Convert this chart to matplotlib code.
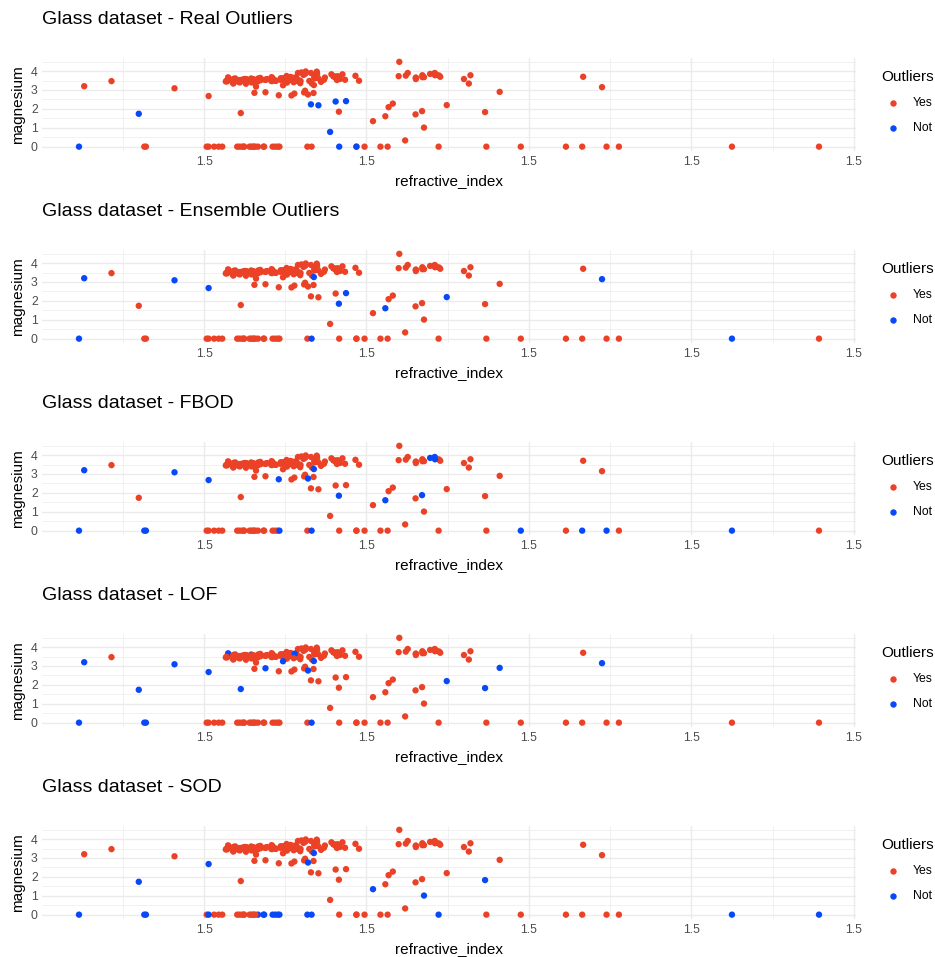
import matplotlib
matplotlib.use('Agg')
import matplotlib.pyplot as plt
import numpy as np

plt.rcParams['font.family'] = ['Liberation Sans', 'DejaVu Sans']

# Glass data: refractive index and magnesium, in row order (rows 1..214)
ri = [
    1.52101, 1.51761, 1.51618, 1.51766, 1.51742, 1.51596, 1.51743, 1.51756, 1.51918, 1.51755,
    1.51571, 1.51763, 1.51589, 1.51748, 1.51763, 1.51761, 1.51784, 1.52196, 1.51911, 1.51735,
    1.51750, 1.51966, 1.51736, 1.51751, 1.51720, 1.51764, 1.51793, 1.51721, 1.51768, 1.51784,
    1.51768, 1.51747, 1.51775, 1.51753, 1.51783, 1.51567, 1.51909, 1.51797, 1.52213, 1.52213,
    1.51793, 1.51755, 1.51779, 1.52210, 1.51786, 1.51900, 1.51869, 1.52667, 1.52223, 1.51898,
    1.52320, 1.51926, 1.51808, 1.51837, 1.51778, 1.51769, 1.51215, 1.51824, 1.51754, 1.51754,
    1.51905, 1.51977, 1.52172, 1.52227, 1.52172, 1.52099, 1.52152, 1.52152, 1.52152, 1.52300,
    1.51574, 1.51848, 1.51593, 1.51631, 1.51596, 1.51590, 1.51645, 1.51627, 1.51613, 1.51590,
    1.51592, 1.51593, 1.51646, 1.51594, 1.51409, 1.51625, 1.51569, 1.51645, 1.51618, 1.51640,
    1.51841, 1.51605, 1.51588, 1.51590, 1.51629, 1.51860, 1.51841, 1.51743, 1.51689, 1.51811,
    1.51655, 1.51730, 1.51820, 1.52725, 1.52410, 1.52475, 1.53125, 1.53393, 1.52222, 1.51818,
    1.52664, 1.52739, 1.52777, 1.51892, 1.51847, 1.51846, 1.51829, 1.51708, 1.51673, 1.51652,
    1.51844, 1.51663, 1.51687, 1.51707, 1.52177, 1.51872, 1.51667, 1.52081, 1.52068, 1.52020,
    1.52177, 1.52614, 1.51813, 1.51800, 1.51811, 1.51789, 1.51806, 1.51711, 1.51674, 1.51674,
    1.51690, 1.51851, 1.51662, 1.51709, 1.51660, 1.51839,
    1.51769, 1.51610, 1.51670, 1.51643, 1.51665, 1.52127, 1.51779, 1.51610, 1.51694, 1.51646,
    1.51655, 1.52121, 1.51776, 1.51796, 1.51832, 1.51934, 1.52211,
    1.51514, 1.51915, 1.52171, 1.52151, 1.51969, 1.51666, 1.51994, 1.52369, 1.51316, 1.51321,
    1.52043, 1.52058, 1.52119,
    1.51905, 1.51937, 1.51829, 1.51852, 1.51299, 1.51888, 1.51916, 1.51969, 1.51115,
    1.51131, 1.51838, 1.52315, 1.52247, 1.52365, 1.51613, 1.51602, 1.51623, 1.51719, 1.51683,
    1.51545, 1.51556, 1.51727, 1.51531, 1.51609, 1.51508, 1.51653, 1.51514, 1.51658, 1.51617,
    1.51732, 1.51645, 1.51831, 1.51640, 1.51623, 1.51685, 1.52065, 1.51651, 1.51711,
]

magnesium = [
    4.49, 3.60, 3.55, 3.69, 3.62, 3.61, 3.60, 3.61, 3.58, 3.60,
    3.46, 3.66, 3.43, 3.56, 3.59, 3.54, 3.67, 3.85, 3.73, 3.54,
    3.55, 3.75, 3.62, 3.57, 3.50, 3.54, 3.48, 3.48, 3.52, 3.49,
    3.56, 3.50, 3.48, 3.47, 3.54, 3.45, 3.53, 3.48, 3.82, 3.82,
    3.50, 3.39, 3.50, 3.90, 3.48, 3.73, 3.54, 3.70, 3.77, 3.72,
    3.78, 3.83, 2.87, 2.84, 2.81, 2.71, 3.47, 3.48, 3.74, 3.54,
    3.66, 3.49, 3.68, 3.70, 3.78, 3.73, 3.65, 3.65, 3.58, 3.58,
    3.67, 3.87, 3.59, 3.57, 3.56, 3.58, 3.61, 3.58, 3.52, 3.52,
    3.52, 3.45, 3.55, 3.52, 3.09, 3.58, 3.49, 3.49, 3.50, 3.48,
    3.74, 3.44, 3.41, 3.34, 3.33, 3.43, 3.62, 3.25, 2.88, 2.96,
    2.85, 2.72, 2.76, 3.15, 2.90, 0.00, 0.00, 0.00, 0.00, 0.00,
    0.00, 0.00, 0.00, 3.83, 3.97, 3.89, 3.90, 3.68, 3.64, 3.57,
    3.76, 3.54, 3.54, 3.48, 3.68, 3.66, 3.61, 2.28, 2.09, 1.35,
    1.01, 0.00, 3.98, 3.93, 3.85, 3.90, 3.80, 3.62, 3.52, 3.56,
    3.54, 3.63, 3.51, 3.47, 3.18, 3.67,
    3.66, 3.53, 3.57, 3.52, 3.45, 3.90, 3.65, 3.40, 3.58, 3.40,
    3.39, 3.76, 3.41, 3.36, 3.34, 3.54, 3.78,
    2.68, 1.85, 1.88, 1.71, 0.00, 0.00, 0.00, 0.00, 0.00, 0.00,
    0.00, 1.61, 0.33,
    2.39, 2.41, 2.24, 2.19, 1.74, 0.78, 0.00, 0.00, 0.00,
    3.20, 3.26, 3.34, 2.20, 1.83, 1.78, 0.00, 0.00, 0.00, 0.00,
    0.00, 0.00, 0.00, 0.00, 0.00, 0.00, 0.00, 0.00, 0.00, 0.00,
    0.00, 0.00, 0.00, 0.00, 0.00, 0.00, 0.00, 0.00, 0.00,
]

# rows (1-based) drawn in blue ("Not") for each method
real_rows = [177, 178, 179, 180, 181, 182, 183, 184, 185]
ensemble_rows = [85, 104, 107, 164, 165, 175, 178, 185, 186, 187, 189, 208]
fbod_rows = [18, 39, 40, 44, 85, 88, 102, 103, 106, 107, 111, 112, 163, 164, 165,
             166, 172, 173, 175, 185, 186, 187, 206, 208]
lof_rows = [13, 71, 83, 85, 98, 99, 103, 104, 105, 153, 164, 172, 173, 181, 185,
            186, 187, 189, 190, 191, 208]
sod_rows = [103, 107, 108, 109, 110, 130, 131, 164, 169, 172, 173, 181, 185, 187,
            190, 194, 195, 198, 203, 206, 208, 211, 214]

titles = ['Glass dataset - Real Outliers', 'Glass dataset - Ensemble Outliers',
          'Glass dataset - FBOD', 'Glass dataset - LOF', 'Glass dataset - SOD']
x_ticks = [1.515, 1.520, 1.525, 1.530, 1.535]
x_tick_labels = ['1.5', '1.5', '1.5', '1.5', '1.5']

RED = '#EA4127'
BLUE = '#0748F8'
GRID = '#EBEBEB'
TICK_GREY = '#4D4D4D'

W, H = 935, 957
fig = plt.figure(figsize=(W / 100, H / 100), dpi=100)

ri_arr = np.array(ri)
mg_arr = np.array(magnesium)
row_ids = np.arange(1, len(ri_arr) + 1)

# ggplot-like 5% expansion of the data range
xpad = (ri_arr.max() - ri_arr.min()) * 0.05
ypad = (mg_arr.max() - mg_arr.min()) * 0.05

# panel geometry in pixels
p_left, p_width = 42, 814
p_top, p_height, step = 57.6, 93.3, 192

for k, (title, rows) in enumerate(zip(titles, [real_rows, ensemble_rows, fbod_rows, lof_rows, sod_rows])):
    top = p_top + step * k
    ax = fig.add_axes([p_left / W, 1 - (top + p_height) / H, p_width / W, p_height / H])

    # one scatter call so points keep the data's drawing order
    colors = np.where(np.isin(row_ids, rows), BLUE, RED)
    ax.scatter(ri_arr, mg_arr, c=colors, s=21, linewidths=0, zorder=3, clip_on=False)

    ax.set_xlim(ri_arr.min() - xpad, ri_arr.max() + xpad)
    ax.set_ylim(mg_arr.min() - ypad, mg_arr.max() + ypad)
    ax.set_xticks(x_ticks)
    ax.set_xticklabels(x_tick_labels)
    ax.set_xticks([1.5125, 1.5175, 1.5225, 1.5275, 1.5325], minor=True)
    ax.set_yticks([0, 1, 2, 3, 4])
    ax.set_yticks([0.5, 1.5, 2.5, 3.5, 4.5], minor=True)
    ax.tick_params(which='both', length=0)
    ax.tick_params(axis='x', labelsize=8.8, labelcolor=TICK_GREY, pad=4)
    ax.tick_params(axis='y', labelsize=8.8, labelcolor=TICK_GREY, pad=3)
    ax.grid(which='major', color=GRID, linewidth=1.0)
    ax.grid(which='minor', color=GRID, linewidth=0.5)
    ax.set_axisbelow(True)
    for s in ax.spines.values():
        s.set_visible(False)

    # pixel y (within the first panel's frame) -> axes fraction
    def ay(py):
        return 1 - (py + step * k - top) / p_height

    ax.set_xlabel('refractive_index', fontsize=11, va='center')
    ax.xaxis.set_label_coords(0.5, ay(181.5))
    ax.set_ylabel('magnesium', fontsize=11, va='center')
    ax.yaxis.set_label_coords((18 - p_left) / p_width, 0.5)

    ax.text(0, ay(20), title, transform=ax.transAxes, fontsize=14, ha='left', va='center')

    # legend drawn by hand, to the right of the panel
    ax.text((881 - p_left) / p_width, ay(76.7), 'Outliers', transform=ax.transAxes,
            fontsize=11, ha='left', va='center')
    for label, col, py in [('Yes', RED, 102.7), ('Not', BLUE, 128.3)]:
        ax.plot([(892.7 - p_left) / p_width], [ay(py)], 'o', color=col, markersize=4.6,
                markeredgewidth=0, transform=ax.transAxes, clip_on=False)
        ax.text((912.7 - p_left) / p_width, ay(py), label, transform=ax.transAxes,
                fontsize=8.8, ha='left', va='center')

fig.savefig('out.png', dpi=100)
